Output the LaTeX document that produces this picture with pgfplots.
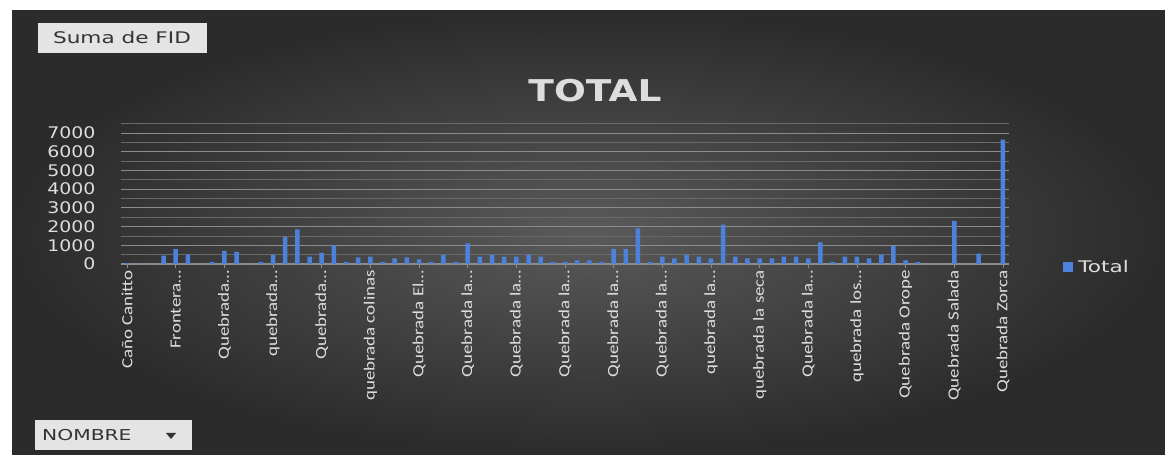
\documentclass[border=0pt]{standalone}
\usepackage{fontspec}
\setmainfont{DejaVu Sans}
\newfontfamily\carlito{Carlito}
\usepackage{graphicx}
\usepackage{pgfplots}
\pgfplotsset{compat=1.18}
\definecolor{bgin}{HTML}{5A5A5A}
\definecolor{bgout}{HTML}{2B2B2B}
\definecolor{barblue}{HTML}{4C82DC}
\definecolor{txt}{HTML}{DDDDDD}
\definecolor{gridmaj}{HTML}{8C8C8C}
\definecolor{gridmin}{HTML}{6A6A6A}
\definecolor{btn}{HTML}{E4E4E4}
\definecolor{btntxt}{HTML}{333333}
\newcommand\xl[1]{\scalebox{1.22}[1]{#1}}
\pgfplotstableread{
x y
0 50
1 0
2 0
3 450
4 800
5 500
6 0
7 100
8 700
9 650
10 0
11 100
12 500
13 1450
14 1850
15 400
16 600
17 1000
18 100
19 350
20 400
21 100
22 300
23 350
24 250
25 100
26 500
27 100
28 1100
29 400
30 500
31 400
32 400
33 500
34 400
35 100
36 100
37 200
38 200
39 100
40 800
41 800
42 1900
43 100
44 400
45 300
46 500
47 400
48 300
49 2100
50 400
51 300
52 300
53 300
54 400
55 400
56 300
57 1150
58 100
59 400
60 400
61 300
62 500
63 950
64 200
65 100
66 0
67 0
68 2300
69 0
70 550
71 0
72 6650
}\datatable
\begin{document}
\begin{tikzpicture}[x=1pt,y=1pt]
\useasboundingbox (0,0) rectangle (1165,455);
\fill[white] (0,0) rectangle (1165,455);
\shade[inner color=bgin, outer color=bgout] (12,0) rectangle (1165,444);
% buttons
\fill[btn] (38,402) rectangle (207,432);
\node[anchor=center, text=btntxt, font=\fontsize{16}{16}\selectfont] at (122,417) {\scalebox{1.35}[1]{Suma de FID}};
\fill[btn] (35,5) rectangle (192,35);
\node[anchor=west, text=btntxt, font=\fontsize{15}{15}\selectfont, inner sep=0pt] at (42,20) {\scalebox{1.35}[1]{NOMBRE}};
\fill[btntxt] (166,22) -- (176,22) -- (171,16) -- cycle;
% title
\node[text=txt, font=\bfseries\fontsize{30}{30}\selectfont] at (595,364) {\scalebox{1.25}[1]{TOTAL}};
\begin{axis}[
  at={(121pt,191pt)}, anchor=south west, scale only axis,
  width=888pt, height=140.3pt,
  xmin=-0.5, xmax=72.5, ymin=0, ymax=7500,
  ybar, bar width=4.5pt,
  axis x line*=bottom, axis y line*=left,
  y axis line style={draw=none},
  x axis line style={draw=gridmaj, line width=1.2pt},
  ytick={0,1000,...,7000},
  minor ytick={500,1500,...,7500},
  ymajorgrids, yminorgrids,
  major grid style={draw=gridmaj, line width=0.9pt},
  minor grid style={draw=gridmin, line width=0.7pt},
  ytick style={draw=none},
  minor tick length=0pt,
  xtick={0,4,...,72},
  xtick style={draw=gridmaj, line width=0.8pt},
  tick align=outside, major tick length=4pt,
  xticklabels={{\xl{Caño Canitto}},{\xl{Frontera…}},{\xl{Quebrada…}},{\xl{quebrada…}},{\xl{Quebrada…}},{\xl{quebrada colinas}},{\xl{Quebrada El…}},{\xl{Quebrada la…}},{\xl{Quebrada la…}},{\xl{Quebrada la…}},{\xl{Quebrada la…}},{\xl{Quebrada la…}},{\xl{quebrada la…}},{\xl{quebrada la seca}},{\xl{Quebrada la…}},{\xl{quebrada los…}},{\xl{Quebrada Orope}},{\xl{Quebrada Salada}},{\xl{Quebrada Zorca}}},
  x tick label style={rotate=90, anchor=east, font=\carlito\fontsize{15.5}{15.5}\selectfont, text=txt, inner sep=2pt},
  y tick label style={font=\fontsize{16}{16}\selectfont, text=txt, xshift=-18pt},
  yticklabel={\scalebox{1.18}[1]{\pgfmathprintnumber{\tick}}},
  /pgf/number format/assume math mode=true,
  /pgf/number format/1000 sep={},
  legend style={at={(1.061,-0.02)}, anchor=west, draw=none, fill=none, inner sep=0pt,
    font=\fontsize{16}{16}\selectfont, text=txt},
  legend image code/.code={\fill[barblue] (0pt,-5pt) rectangle (10pt,5pt);},
]
\addplot[fill=barblue, draw=none] table[x=x, y=y] {\datatable};
\addlegendentry{\hspace{3pt}\scalebox{1.35}[1]{Total}}
\end{axis}
\end{tikzpicture}
\end{document}
